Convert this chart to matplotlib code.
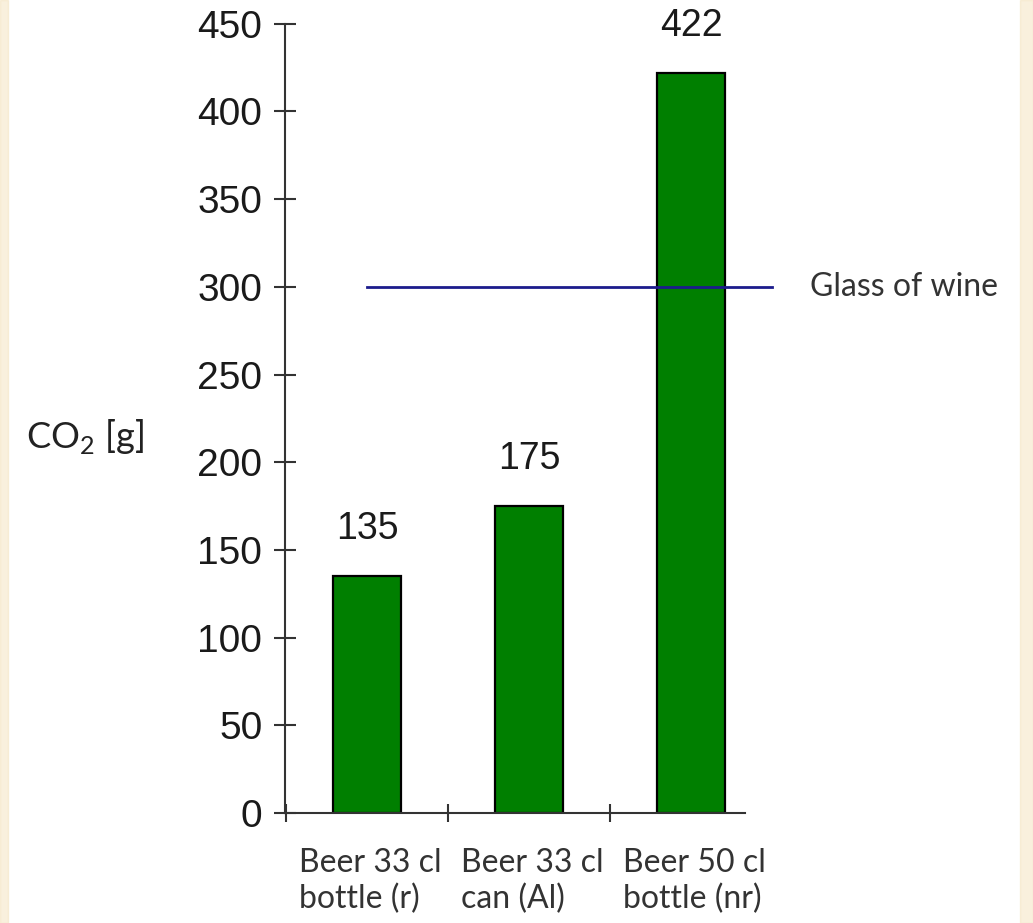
import numpy as np
import matplotlib.pyplot as plt
from matplotlib.patches import Rectangle

# data
kategorier = ['Beer 33 cl\nbottle (r)', 'Beer 33 cl\ncan (Al)', 'Beer 50 cl\nbottle (nr)']
co2 = [135, 175, 422]
vin = 300  # glass of wine
y_ticks = [0, 50, 100, 150, 200, 250, 300, 350, 400, 450]

fig = plt.figure(figsize=(10.33, 9.23), dpi=100)
ax = fig.add_axes([0.2755, 0.1192, 0.4455, 0.855])

# faint yellow edges like the original slide
fig.patches.append(Rectangle((0, 0), 0.008, 1, transform=fig.transFigure, color='#f3dfb5', alpha=0.45, zorder=0))
fig.patches.append(Rectangle((0.987, 0), 0.013, 1, transform=fig.transFigure, color='#f3dfb5', alpha=0.45, zorder=0))

x = np.arange(len(co2))
ax.bar(x, co2, width=0.42, color='#007f00', edgecolor='black', linewidth=1.6, zorder=2)

# verdier over soylene
for xi, v in zip(x, co2):
    ax.annotate(str(v), (xi, v), xytext=(0, 21), textcoords='offset points',
                ha='center', va='bottom', fontsize=27, family='Liberation Sans', color='#1a1a1a')

# linje for vinglass
ax.plot([0, 2.5], [vin, vin], color='#1c1c8c', linewidth=2, clip_on=False, zorder=3)
ax.text(2.73, vin, 'Glass of wine', fontsize=23, family='Lato', color='#333333',
        va='center', ha='left')

ax.set_xlim(-0.51, 2.33)
ax.set_ylim(0, 450)
ax.set_yticks(y_ticks)
ax.set_yticklabels([str(t) for t in y_ticks], fontsize=28, family='Liberation Sans', color='#1a1a1a')
ax.set_xticks([-0.5, 0.5, 1.5])
ax.set_xticklabels([])
ax.tick_params(axis='y', direction='inout', length=16, width=1.5, color='#333333', pad=8)
ax.tick_params(axis='x', direction='inout', length=13, width=1.5, color='#333333')

for xi, lab in zip(x, kategorier):
    ax.text(xi + 0.02, -20, lab, ha='center', va='top', multialignment='left',
            fontsize=23, family='Lato', color='#333333', linespacing=1.25)

fig.text(85 / 1033, 1 - 437 / 923, r'CO$_\mathregular{2}$ [g]', fontsize=26, family='Lato',
         color='#222222', ha='center', va='center')

for s in ['top', 'right']:
    ax.spines[s].set_visible(False)
for s in ['left', 'bottom']:
    ax.spines[s].set_linewidth(1.5)
    ax.spines[s].set_color('#333333')

fig.savefig('out.png', dpi=100)
